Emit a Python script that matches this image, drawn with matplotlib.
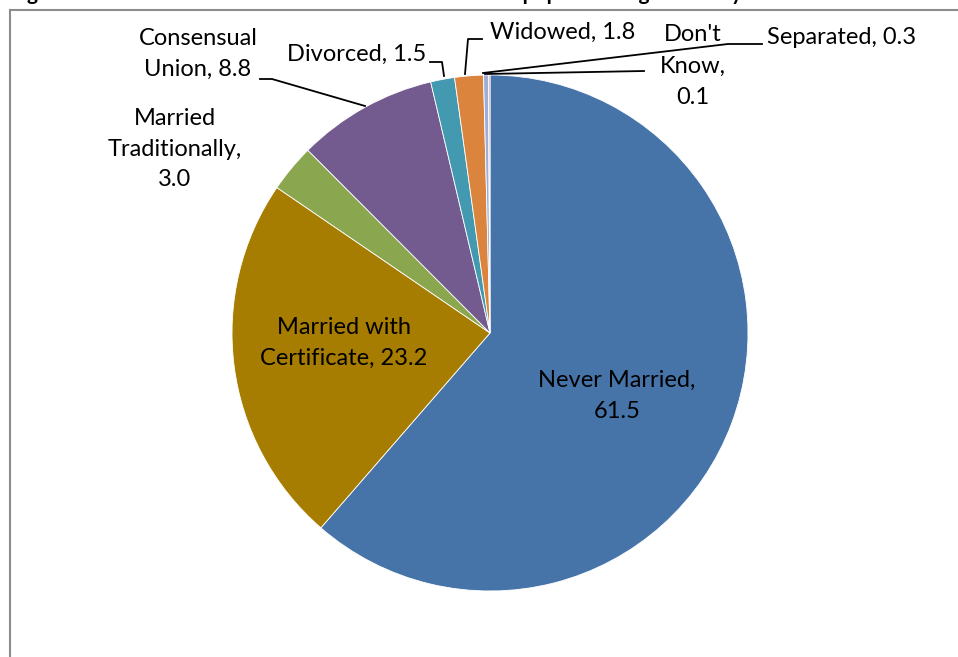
import matplotlib.pyplot as plt
from matplotlib.lines import Line2D

# datos del grafico
categorias = ['Never Married', 'Married with Certificate', 'Married Traditionally',
              'Consensual Union', 'Divorced', 'Widowed', 'Separated', "Don't Know"]
valores = [61.5, 23.2, 3.0, 8.8, 1.5, 1.8, 0.3, 0.1]
colores = ['#4674A9', '#A67D00', '#8AA64E', '#735A8F', '#4399AF', '#DA843E', '#9DAFD8', '#D0A0A0']

W, H = 958, 657
plt.rcParams['font.family'] = ['Lato', 'DejaVu Sans']

fig = plt.figure(figsize=(W / 100, H / 100), dpi=100)
ax = fig.add_axes([0, 0, 1, 1])


def Y(y):
    return H - y


# PASTEL
ax.pie(valores, colors=colores, startangle=90, counterclock=False,
       center=(490, Y(333)), radius=258, frame=True,
       wedgeprops=dict(edgecolor='white', linewidth=0.6))
ax.set_xlim(0, W)
ax.set_ylim(0, H)
ax.set_aspect('equal')
ax.axis('off')

# ETIQUETAS
fs = 17
ls = 1.55
ax.text(617, Y(396), f'{categorias[0]},\n{valores[0]}', ha='center', va='center', fontsize=fs, linespacing=ls)
ax.text(344, Y(343), 'Married with\nCertificate, %.1f' % valores[1], ha='center', va='center', fontsize=fs, linespacing=ls)
ax.text(175, Y(149), 'Married\nTraditionally,\n%.1f' % valores[2], ha='center', va='center', fontsize=fs, linespacing=ls)
ax.text(198, Y(54), 'Consensual\nUnion, %.1f' % valores[3], ha='center', va='center', fontsize=fs, linespacing=ls)
ax.text(357, Y(54), '%s, %.1f' % (categorias[4], valores[4]), ha='center', va='center', fontsize=fs)
ax.text(563, Y(32), '%s, %.1f' % (categorias[5], valores[5]), ha='center', va='center', fontsize=fs)
ax.text(842, Y(38), '%s, %.1f' % (categorias[6], valores[6]), ha='center', va='center', fontsize=fs)
ax.text(693, Y(66), "Don't\nKnow,\n%.1f" % valores[7], ha='center', va='center', fontsize=fs, linespacing=1.6)

# LINEAS GUIA
guias = [
    ([260, 272, 365], [79, 79, 106]),
    ([430, 442, 444], [62, 62, 76]),
    ([482, 468, 465], [39, 39, 74]),
    ([762, 728, 483], [44, 44, 73]),
    ([644, 485], [71, 74]),
]
for xs, ys in guias:
    ax.plot(xs, [Y(v) for v in ys], color='black', linewidth=1.3)

# MARCO
fig.add_artist(Line2D([10 / W, 1], [1 - 10 / H, 1 - 10 / H], color='#8c8c8c', linewidth=1.5))
fig.add_artist(Line2D([10 / W, 10 / W], [0, 1 - 10 / H], color='#8c8c8c', linewidth=1.5))

# titulo (cortado arriba, solo se ven los trazos inferiores)
fig.text(10 / W, 1 - 0.5 / H,
         'Figure 3.4: Distribution of the total de facto household population aged 12+ by marital status',
         fontsize=15, fontweight='bold', va='baseline', ha='left')

fig.savefig('out.png', dpi=100)
